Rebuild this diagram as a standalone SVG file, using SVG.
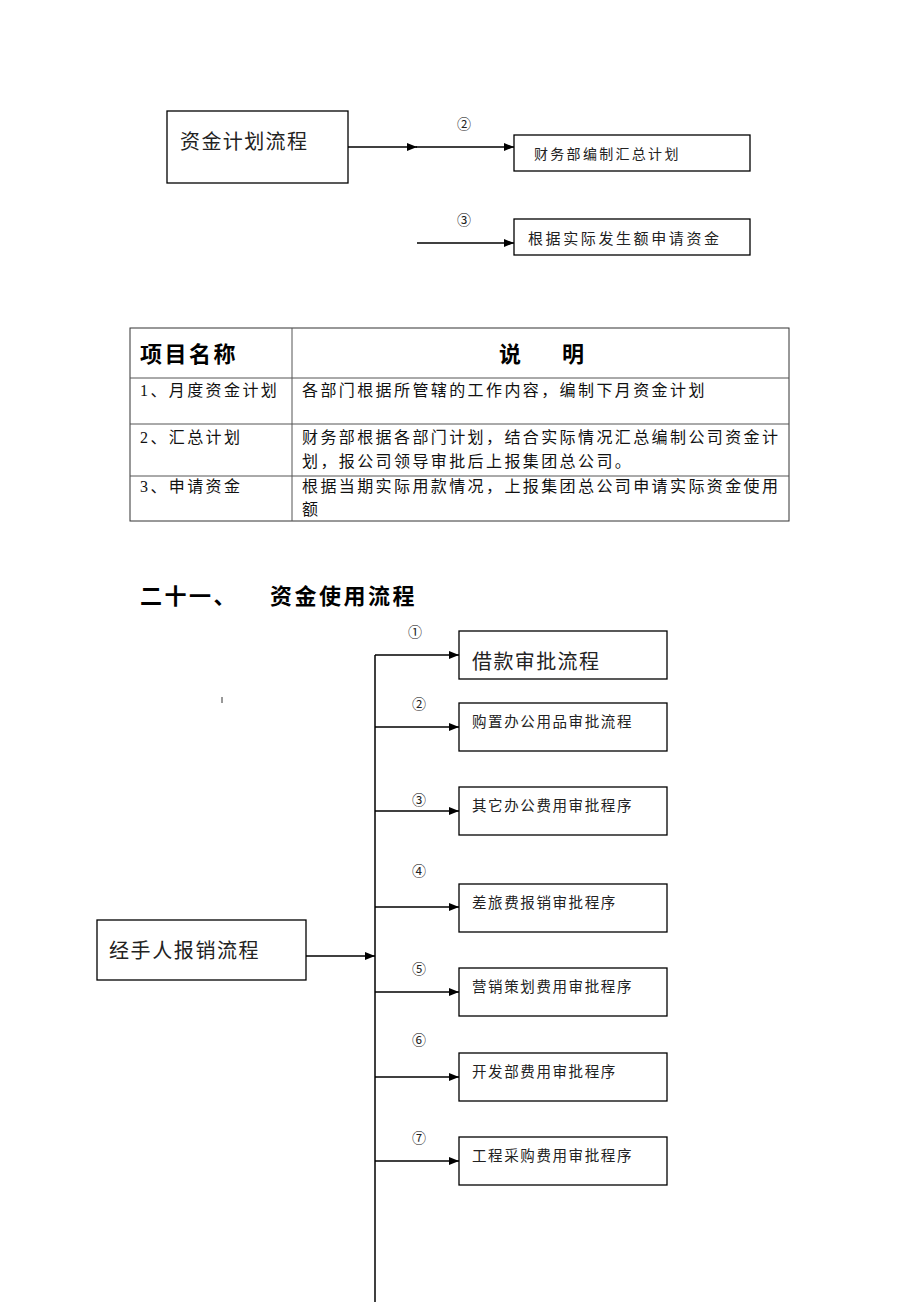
<svg xmlns="http://www.w3.org/2000/svg" width="920" height="1302" viewBox="0 0 920 1302">
<style>
.box{fill:#fff;stroke:#000;stroke-width:1.3}
.ln{stroke:#000;stroke-width:1.5;fill:none}
.arr{stroke:#000;stroke-width:1.5;fill:none;marker-end:url(#ah)}
.t{font-family:"Noto Sans CJK SC","Liberation Sans",sans-serif;fill:#222}
.big{font-size:20px;letter-spacing:1.4px}
.sm{font-size:14.5px;letter-spacing:1.6px}
.s{font-family:"Liberation Serif","Noto Sans CJK SC",serif;fill:#111;font-size:16px;letter-spacing:2.4px}
.h{font-family:"Liberation Sans","Noto Sans CJK SC",sans-serif;font-weight:bold;fill:#000;font-size:22px;letter-spacing:2.5px}
.n{font-family:"Liberation Serif","Noto Sans CJK SC",serif;font-size:14px;fill:#222;text-anchor:middle}
.tl{stroke:#555;stroke-width:1;fill:none}
</style>
<defs>
<marker id="ah" markerWidth="10" markerHeight="8" refX="10" refY="4" orient="auto" markerUnits="userSpaceOnUse">
<path d="M0,0 L10,4 L0,8 Z" fill="#000"/>
</marker>
</defs>
<rect width="920" height="1302" fill="#fff"/>

<g id="connectors">
<line class="arr" x1="348" y1="147" x2="417" y2="147"/>
<line class="arr" x1="416" y1="147" x2="514" y2="147"/>
<line class="arr" x1="417" y1="243" x2="514" y2="243"/>
<line class="ln" x1="375" y1="655" x2="375" y2="1302"/>
<line class="arr" x1="375" y1="655" x2="459" y2="655"/>
<line class="arr" x1="375" y1="727" x2="459" y2="727"/>
<line class="arr" x1="375" y1="811" x2="459" y2="811"/>
<line class="arr" x1="375" y1="907" x2="459" y2="907"/>
<line class="arr" x1="375" y1="992" x2="459" y2="992"/>
<line class="arr" x1="375" y1="1077" x2="459" y2="1077"/>
<line class="arr" x1="375" y1="1161" x2="459" y2="1161"/>
<line class="arr" x1="306" y1="956" x2="375" y2="956"/>
<text class="n" x="464" y="129">②</text>
<text class="n" x="464" y="225">③</text>
<text class="n" x="415" y="637">①</text>
<text class="n" x="419" y="709">②</text>
<text class="n" x="419" y="805">③</text>
<text class="n" x="419" y="876">④</text>
<text class="n" x="419" y="974">⑤</text>
<text class="n" x="419" y="1045">⑥</text>
<text class="n" x="419" y="1143">⑦</text>
</g>

<g id="n-plan">
<rect class="box" x="167" y="111" width="181" height="72"/>
<text class="t big" x="180" y="149">资金计划流程</text>
</g>
<g id="n-summary">
<rect class="box" x="514" y="135" width="236" height="36"/>
<text class="t" x="534" y="159" font-size="14" letter-spacing="2.3">财务部编制汇总计划</text>
</g>
<g id="n-apply">
<rect class="box" x="514" y="219" width="236" height="36"/>
<text class="t" x="528" y="244" font-size="15" letter-spacing="2.6">根据实际发生额申请资金</text>
</g>

<g id="table">
<rect x="130" y="328" width="659" height="193" fill="none" stroke="#333" stroke-width="1"/>
<line class="tl" x1="292" y1="328" x2="292" y2="521"/>
<line class="tl" x1="130" y1="378" x2="789" y2="378"/>
<line class="tl" x1="130" y1="424" x2="789" y2="424"/>
<line class="tl" x1="130" y1="476" x2="789" y2="476"/>
<text class="h" x="140" y="362">项目名称</text>
<text class="h" x="499" y="362">说</text>
<text class="h" x="562" y="362">明</text>
<text class="s" x="140" y="396">1、月度资金计划</text>
<text class="s" x="302" y="396">各部门根据所管辖的工作内容，编制下月资金计划</text>
<text class="s" x="140" y="443">2、汇总计划</text>
<text class="s" x="302" y="443">财务部根据各部门计划，结合实际情况汇总编制公司资金计</text>
<text class="s" x="302" y="467">划，报公司领导审批后上报集团总公司。</text>
<text class="s" x="140" y="492">3、申请资金</text>
<text class="s" x="302" y="492">根据当期实际用款情况，上报集团总公司申请实际资金使用</text>
<text class="s" x="302" y="515">额</text>
</g>

<g id="heading">
<text class="h" x="140" y="604">二十一、</text>
<text class="h" x="270" y="604">资金使用流程</text>
<line x1="222" y1="697" x2="222" y2="703" stroke="#333" stroke-width="1"/>
</g>

<g id="n-handler">
<rect class="box" x="97" y="920" width="209" height="60"/>
<text class="t" x="109" y="958" font-size="20" letter-spacing="1.6">经手人报销流程</text>
</g>
<g id="b1">
<rect class="box" x="459" y="631" width="208" height="48"/>
<text class="t big" x="472" y="669">借款审批流程</text>
</g>
<g id="b2">
<rect class="box" x="459" y="703" width="208" height="48"/>
<text class="t sm" x="472" y="727">购置办公用品审批流程</text>
</g>
<g id="b3">
<rect class="box" x="459" y="787" width="208" height="48"/>
<text class="t sm" x="472" y="811">其它办公费用审批程序</text>
</g>
<g id="b4">
<rect class="box" x="459" y="884" width="208" height="48"/>
<text class="t sm" x="472" y="908">差旅费报销审批程序</text>
</g>
<g id="b5">
<rect class="box" x="459" y="968" width="208" height="48"/>
<text class="t sm" x="472" y="992">营销策划费用审批程序</text>
</g>
<g id="b6">
<rect class="box" x="459" y="1053" width="208" height="48"/>
<text class="t sm" x="472" y="1077">开发部费用审批程序</text>
</g>
<g id="b7">
<rect class="box" x="459" y="1137" width="208" height="48"/>
<text class="t sm" x="472" y="1161">工程采购费用审批程序</text>
</g>
</svg>
